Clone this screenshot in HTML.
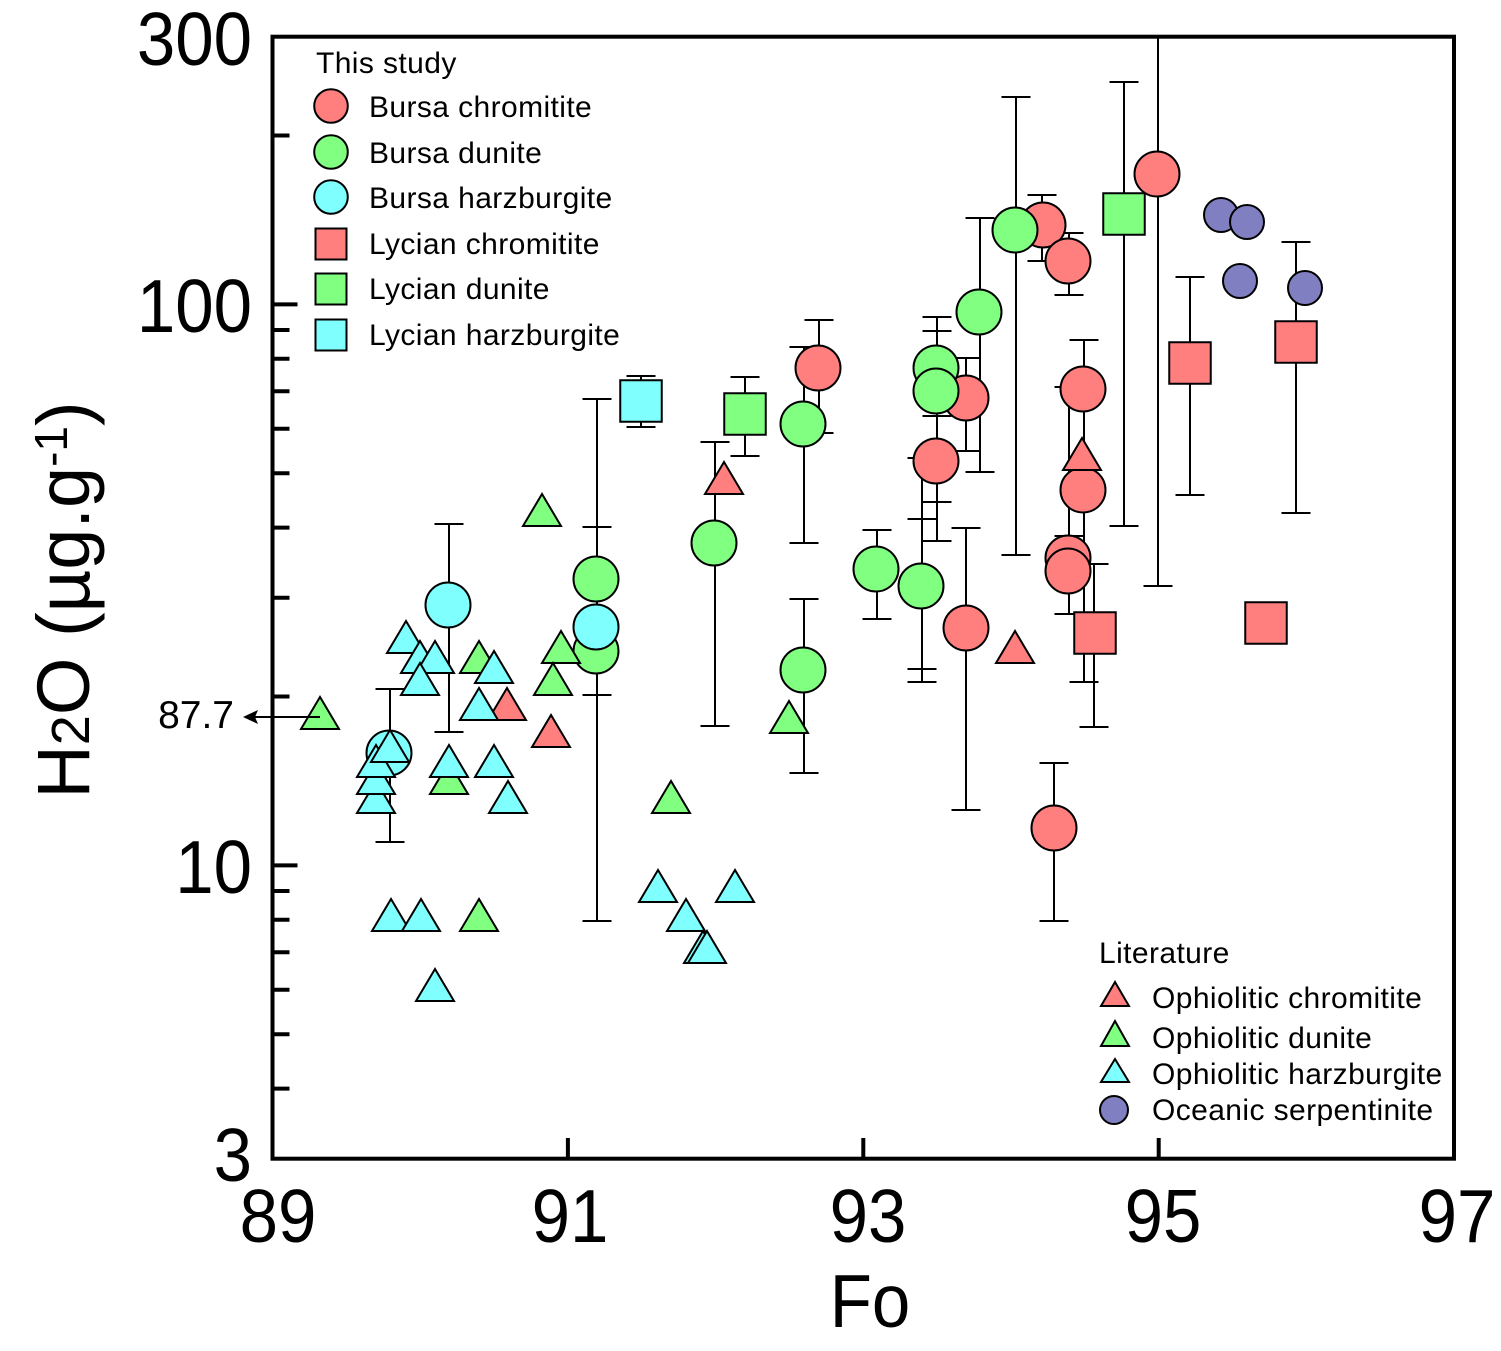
<!DOCTYPE html>
<html>
<head>
<meta charset="utf-8">
<style>
  html, body { margin: 0; padding: 0; background: #fff; }
  svg { display: block; }
  text { font-family: "Liberation Sans", Arial, sans-serif; fill: #000; }
  .r { fill: #FF7F7F; stroke: #000; stroke-width: 2; }
  .g { fill: #80FF80; stroke: #000; stroke-width: 2; }
  .c { fill: #80FFFF; stroke: #000; stroke-width: 2; }
  .b { fill: #7F7FC2; stroke: #000; stroke-width: 2; }
  .eb { fill: none; stroke: #000; stroke-width: 2; }
  .leg { font-size: 30px; letter-spacing: 0.4px; }
  .tick { font-size: 75px; }
</style>
</head>
<body>
<svg width="1501" height="1351" viewBox="0 0 1501 1351" xmlns="http://www.w3.org/2000/svg">
  <rect x="0" y="0" width="1501" height="1351" fill="#fff"/>

  <!-- error bars -->
  <path class="eb" d="
    M819 320V433 M804.5 320h29 M804.5 433h29
    M966 358V451 M951.5 358h29 M951.5 451h29
    M1042 195V261 M1027.5 195h29 M1027.5 261h29
    M1069 233V295 M1054.5 233h29 M1054.5 295h29
    M1084 340V682 M1069.5 340h29 M1069.5 682h29
    M1069 387V614 M1054.5 387h29 M1054.5 536h29 M1054.5 614h29
    M966 528V810 M951.5 528h29 M951.5 810h29
    M1054 763V921 M1039.5 763h29 M1039.5 921h29
    M1158 37V586 M1143.5 586h29
    M597 399V921 M582.5 399h29 M582.5 527h29 M582.5 695h29 M582.5 921h29
    M715 442V726 M700.5 442h29 M700.5 726h29
    M804 347V543 M789.5 347h29 M789.5 543h29
    M804 599V773 M789.5 599h29 M789.5 773h29
    M877 530V619 M862.5 530h29 M862.5 619h29
    M922 458V682 M907.5 458h29 M907.5 519h29 M907.5 669h29 M907.5 682h29
    M937 317V541 M922.5 317h29 M922.5 331h29 M922.5 416h29 M922.5 502h29 M922.5 541h29
    M980 218V472 M965.5 218h29 M965.5 472h29
    M1016 97V555 M1001.5 97h29 M1001.5 555h29
    M449 524V732 M434.5 524h29 M434.5 732h29
    M390 689V842 M375.5 689h29 M375.5 842h29
    M1190 277V495 M1175.5 277h29 M1175.5 495h29
    M1296 242V513 M1281.5 242h29 M1281.5 513h29
    M1094 564V727 M1079.5 564h29 M1079.5 727h29
    M745 377V456 M730.5 377h29 M730.5 456h29
    M1124 82V526 M1109.5 82h29 M1109.5 526h29
    M641 376V427 M626.5 376h29 M626.5 427h29
  "/>

  <!-- squares -->
  <rect class="r" x="1169.25" y="342.25" width="41.5" height="41.5"/>
  <rect class="r" x="1275.25" y="321.25" width="41.5" height="41.5"/>
  <rect class="r" x="1074.25" y="612.25" width="41.5" height="41.5"/>
  <rect class="r" x="1245.25" y="602.25" width="41.5" height="41.5"/>
  <rect class="g" x="724.25" y="393.25" width="41.5" height="41.5"/>
  <rect class="g" x="1103.25" y="193.25" width="41.5" height="41.5"/>
  <rect class="c" x="620.25" y="380.25" width="41.5" height="41.5"/>

  <!-- Bursa chromitite circles -->
  <circle class="r" cx="818" cy="368" r="22.5"/>
  <circle class="r" cx="966" cy="398" r="22.5"/>
  <circle class="r" cx="936" cy="461" r="22.5"/>
  <circle class="r" cx="1043" cy="225" r="22.5"/>
  <circle class="r" cx="1068" cy="261" r="22.5"/>
  <circle class="r" cx="1083" cy="389" r="22.5"/>
  <circle class="r" cx="1083" cy="490" r="22.5"/>
  <circle class="r" cx="1068" cy="558" r="22.5"/>
  <circle class="r" cx="1068" cy="571" r="22.5"/>
  <circle class="r" cx="966" cy="628" r="22.5"/>
  <circle class="r" cx="1054" cy="828" r="22.5"/>
  <circle class="r" cx="1157" cy="174" r="22.5"/>

  <!-- Bursa dunite circles -->
  <circle class="g" cx="596" cy="651" r="22.5"/>
  <circle class="g" cx="596" cy="579" r="22.5"/>
  <circle class="g" cx="714" cy="543" r="22.5"/>
  <circle class="g" cx="803" cy="424" r="22.5"/>
  <circle class="g" cx="803" cy="670" r="22.5"/>
  <circle class="g" cx="876" cy="569" r="22.5"/>
  <circle class="g" cx="921" cy="586" r="22.5"/>
  <circle class="g" cx="936" cy="368" r="22.5"/>
  <circle class="g" cx="936" cy="391" r="22.5"/>
  <circle class="g" cx="979" cy="312" r="22.5"/>
  <circle class="g" cx="1015" cy="230" r="22.5"/>

  <!-- Bursa harzburgite circles -->
  <circle class="c" cx="448" cy="605" r="22.5"/>
  <circle class="c" cx="596" cy="627" r="22.5"/>
  <circle class="c" cx="389" cy="753" r="22.5"/>

  <!-- Oceanic serpentinite -->
  <circle class="b" cx="1221" cy="215" r="17"/>
  <circle class="b" cx="1247" cy="222" r="17"/>
  <circle class="b" cx="1240" cy="281" r="17"/>
  <circle class="b" cx="1305" cy="288" r="17"/>

  <!-- Ophiolitic chromitite triangles -->
  <polygon class="r" points="724,462 705,494 743,494"/>
  <polygon class="r" points="507,688 488,720 526,720"/>
  <polygon class="r" points="551,715 532,747 570,747"/>
  <polygon class="r" points="1015,631 996,663 1034,663"/>
  <polygon class="r" points="1082,438 1063,470 1101,470"/>

  <!-- Ophiolitic dunite triangles -->
  <polygon class="g" points="320,697 301,729 339,729"/>
  <polygon class="g" points="542,494 523,526 561,526"/>
  <polygon class="g" points="561,631 542,663 580,663"/>
  <polygon class="g" points="553,663 534,695 572,695"/>
  <polygon class="g" points="479,641 460,673 498,673"/>
  <polygon class="g" points="449,762 430,794 468,794"/>
  <polygon class="g" points="479,899 460,931 498,931"/>
  <polygon class="g" points="671,781 652,813 690,813"/>
  <polygon class="g" points="789,701 770,733 808,733"/>

  <!-- Ophiolitic harzburgite triangles -->
  <polygon class="c" points="406,621 387,653 425,653"/>
  <polygon class="c" points="420,641 401,673 439,673"/>
  <polygon class="c" points="435,641 416,673 454,673"/>
  <polygon class="c" points="420,663 401,695 439,695"/>
  <polygon class="c" points="494,651 475,683 513,683"/>
  <polygon class="c" points="479,688 460,720 498,720"/>
  <polygon class="c" points="376,781 357,813 395,813"/>
  <polygon class="c" points="376,762 357,794 395,794"/>
  <polygon class="c" points="376,745 357,777 395,777"/>
  <polygon class="c" points="390,730 371,762 409,762"/>
  <polygon class="c" points="449,745 430,777 468,777"/>
  <polygon class="c" points="494,745 475,777 513,777"/>
  <polygon class="c" points="508,781 489,813 527,813"/>
  <polygon class="c" points="391,899 372,931 410,931"/>
  <polygon class="c" points="421,899 402,931 440,931"/>
  <polygon class="c" points="435,969 416,1001 454,1001"/>
  <polygon class="c" points="658,870 639,902 677,902"/>
  <polygon class="c" points="735,870 716,902 754,902"/>
  <polygon class="c" points="686,899 667,931 705,931"/>
  <polygon class="c" points="703,931 684,963 722,963"/>
  <polygon class="c" points="707,931 688,963 726,963"/>

  <!-- frame -->
  <rect x="272.5" y="36.7" width="1181.5" height="1122" fill="none" stroke="#000" stroke-width="4"/>

  <!-- y ticks -->
  <path fill="none" stroke="#000" stroke-width="4" d="
    M272.5 304.4h25 M272.5 865.4h25
    M272.5 135.5h17 M272.5 330.0h17 M272.5 358.7h17 M272.5 391.3h17 M272.5 428.8h17
    M272.5 473.2h17 M272.5 527.6h17 M272.5 597.7h17 M272.5 696.5h17
    M272.5 891.0h17 M272.5 919.7h17 M272.5 952.3h17 M272.5 989.8h17 M272.5 1034.2h17 M272.5 1088.6h17
  "/>
  <!-- x ticks -->
  <path fill="none" stroke="#000" stroke-width="4" d="M567.9 1158.7V1138 M863.3 1158.7V1138 M1158.7 1158.7V1138"/>

  <!-- y tick labels -->
  <text class="tick" text-anchor="end" transform="translate(252,65) scale(0.92,1)">300</text>
  <text class="tick" text-anchor="end" transform="translate(252,332) scale(0.92,1)">100</text>
  <text class="tick" text-anchor="end" transform="translate(252,893) scale(0.92,1)">10</text>
  <text class="tick" text-anchor="end" transform="translate(252,1181) scale(0.92,1)">3</text>

  <!-- x tick labels -->
  <text class="tick" text-anchor="middle" transform="translate(278,1242) scale(0.92,1)">89</text>
  <text class="tick" text-anchor="middle" transform="translate(570,1242) scale(0.92,1)">91</text>
  <text class="tick" text-anchor="middle" transform="translate(868,1242) scale(0.92,1)">93</text>
  <text class="tick" text-anchor="middle" transform="translate(1163,1242) scale(0.92,1)">95</text>
  <text class="tick" text-anchor="middle" transform="translate(1457,1242) scale(0.92,1)">97</text>

  <!-- axis titles -->
  <text class="tick" text-anchor="middle" transform="translate(870,1327) scale(0.92,1)">Fo</text>
  <text text-anchor="middle" font-size="74" transform="translate(89,600) rotate(-90)">H<tspan font-size="54">2</tspan>O (µg.g<tspan font-size="46" dy="-22">-1</tspan><tspan dy="22">)</tspan></text>

  <!-- 87.7 annotation -->
  <text x="234" y="728" text-anchor="end" font-size="39">87.7</text>
  <path d="M320 717H252" stroke="#000" stroke-width="2" fill="none"/>
  <polygon points="243,717 258,710 255,717 258,724" fill="#000"/>

  <!-- legend: This study -->
  <text class="leg" x="316" y="73">This study</text>
  <circle class="r" cx="331" cy="106" r="16.8"/>
  <circle class="g" cx="331" cy="152" r="16.8"/>
  <circle class="c" cx="331" cy="197" r="16.8"/>
  <rect class="r" x="315.5" y="228.5" width="31" height="31"/>
  <rect class="g" x="315.5" y="273.5" width="31" height="31"/>
  <rect class="c" x="315.5" y="319.5" width="31" height="31"/>
  <text class="leg" x="369" y="117">Bursa chromitite</text>
  <text class="leg" x="369" y="163">Bursa dunite</text>
  <text class="leg" x="369" y="208">Bursa harzburgite</text>
  <text class="leg" x="369" y="254">Lycian chromitite</text>
  <text class="leg" x="369" y="299">Lycian dunite</text>
  <text class="leg" x="369" y="345">Lycian harzburgite</text>

  <!-- legend: Literature -->
  <text class="leg" x="1099" y="963">Literature</text>
  <polygon class="r" points="1115,982 1101,1006 1129,1006"/>
  <polygon class="g" points="1115,1021 1101,1046 1129,1046"/>
  <polygon class="c" points="1115,1059 1101,1082 1129,1082"/>
  <circle class="b" cx="1114" cy="1110" r="14"/>
  <text class="leg" x="1152" y="1008">Ophiolitic chromitite</text>
  <text class="leg" x="1152" y="1048">Ophiolitic dunite</text>
  <text class="leg" x="1152" y="1084">Ophiolitic harzburgite</text>
  <text class="leg" x="1152" y="1120">Oceanic serpentinite</text>
</svg>
</body>
</html>
